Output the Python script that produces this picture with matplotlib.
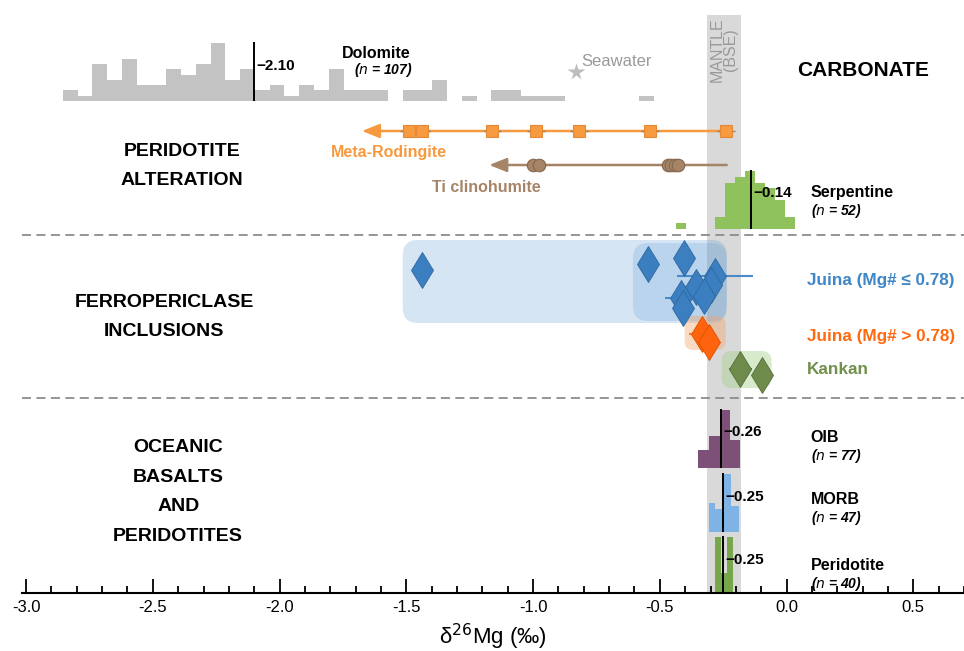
import numpy as np
import matplotlib.pyplot as plt
from matplotlib.patches import FancyBboxPatch

plt.rcParams['font.family'] = ['Liberation Sans', 'DejaVu Sans']

# ---- histogram data (bin edges in permil, counts) ----
dolo_start, dolo_width = -2.855, 0.0583
dolo_counts = [2, 1, 7, 4, 8, 3, 3, 6, 5, 7, 11, 4, 6, 2, 3, 1, 3, 2, 6, 2,
               2, 2, 0, 2, 2, 4, 0, 1, 0, 2, 2, 1, 1, 1, 0, 0, 0, 0, 0, 1]
dolo_median = -2.10

serp_start, serp_width = -0.438, 0.0394
serp_counts = [1, 0, 0, 0, 2, 8, 9, 10, 8, 7, 5, 2]
serp_median = -0.14

oib_edges = [-0.349, -0.304, -0.261, -0.222, -0.182]
oib_counts = [10, 18, 33, 16]
oib_median = -0.26

morb_edges = [-0.307, -0.281, -0.251, -0.219, -0.189]
morb_counts = [10, 8, 20, 9]
morb_median = -0.25

perid_edges = [-0.281, -0.257, -0.233, -0.210]
perid_counts = [17, 6, 17]
perid_median = -0.25

# ---- individual analyses ----
rodingite_x = [-1.491, -1.440, -1.160, -0.989, -0.819, -0.539, -0.239]
rodingite_span = (-0.217, -1.675)
clinohumite_x = [-1.002, -0.976, -0.467, -0.454, -0.441, -0.428]
clinohumite_span = (-0.236, -1.173)

juina_low_x = [-1.440, -0.545, -0.404, -0.281, -0.300, -0.358, -0.324, -0.415, -0.407]
juina_low_err = [0.03, 0.03, 0.0, 0.15, 0.0, 0.05, 0.0, 0.065, 0.0]
juina_high_x = [-0.334, -0.304]
juina_high_err = [0.05, 0.03]
kankan_x = [-0.182, -0.097]
kankan_err = [0.045, 0.0]

seawater = -0.83
mantle = (-0.315, -0.18)

# vertical placement of each row (rows counted downward from the top)
juina_low_rows = [270, 264, 258, 276, 285, 287, 296, 298, 308]
juina_high_rows = [334, 342]
kankan_rows = [369, 375]

fig = plt.figure(figsize=(9.64, 6.51), dpi=100)
ax = fig.add_axes([22 / 964, 58 / 651, 942 / 964, 593 / 651])
ax.set_xlim(-3.016, 0.693)
ax.set_ylim(593, 0)

for s in ['left', 'right', 'top']:
    ax.spines[s].set_visible(False)
ax.spines['bottom'].set_linewidth(1.5)
ax.set_yticks([])
ax.set_xticks(np.arange(-3.0, 0.51, 0.5))
ax.set_xticks(np.arange(-3.0, 0.71, 0.1), minor=True)
ax.xaxis.set_major_formatter(plt.FormatStrFormatter('%.1f'))
ax.tick_params(axis='x', which='major', direction='in', length=10, width=1.3,
               labelsize=12, pad=5)
ax.tick_params(axis='x', which='minor', direction='in', length=5, width=1.3)
ax.set_xlabel('δ$^{26}$Mg (‰)', fontsize=16, labelpad=5)

# mantle band
ax.fill_between(mantle, 15, 593, color='#d9d9d9', lw=0, zorder=0)
ax.text(np.mean(mantle), 17, 'MANTLE\n(BSE)', rotation=90, ha='center', va='top',
        color='#9a9a9a', fontsize=11.5, linespacing=0.9)

# group separators
for r in [235, 398]:
    ax.axhline(r, color='#8c8c8c', lw=1.3, ls=(0, (5, 3)), zorder=1)


def draw_hist(edges, counts, base, color, med, label_row, tall=58):
    edges = np.asarray(edges)
    counts = np.asarray(counts, dtype=float)
    h = counts * tall / counts.max()
    ax.bar(edges[:-1], -h, width=np.diff(edges), bottom=base, align='edge',
           color=color, lw=0, zorder=2)
    ax.vlines(med, base, base - tall - 1, color='black', lw=1.4, zorder=3)
    ax.text(med + 0.01, label_row, '\u2212%.2f' % abs(med), fontsize=11,
            fontweight='bold', ha='left', va='center', zorder=4)


dolo_edges = dolo_start + dolo_width * np.arange(len(dolo_counts) + 1)
serp_edges = serp_start + serp_width * np.arange(len(serp_counts) + 1)
draw_hist(dolo_edges, dolo_counts, 101, '#c3c3c3', dolo_median, 66)
draw_hist(serp_edges, serp_counts, 229, '#8fc15c', serp_median, 193)
draw_hist(oib_edges, oib_counts, 468, '#7d5078', oib_median, 432)
draw_hist(morb_edges, morb_counts, 532, '#7fb3e6', morb_median, 497)
draw_hist(perid_edges, perid_counts, 593, '#78a64a', perid_median, 560, tall=56)

label_kw = dict(fontsize=11.5, fontweight='bold', va='center')
n_kw = dict(fontsize=10, fontweight='bold', style='italic', va='center')

# carbonate row
ax.text(-1.618, 53, 'Dolomite', ha='center', **label_kw)
ax.text(-1.591, 70, '($n$ = 107)', ha='center', **n_kw)
ax.plot(seawater, 72, marker='*', ms=13, color='#bdbdbd', mec='none', zorder=3)
ax.text(seawater + 0.022, 61, 'Seawater', fontsize=12, color='#9a9a9a', va='center')
ax.text(0.30, 71, 'CARBONATE', fontsize=15, fontweight='bold', ha='center', va='center')

# peridotite alteration: arrows with individual analyses
arrow_style = '-|>,head_length=0.75,head_width=0.3'
ax.annotate('', xy=(rodingite_span[1], 131), xytext=(rodingite_span[0], 131),
            arrowprops=dict(arrowstyle=arrow_style, color='#f7993e', lw=1.8,
                            mutation_scale=14, shrinkA=0, shrinkB=0), zorder=2)
ax.errorbar(rodingite_x, [131] * len(rodingite_x), xerr=0.035, fmt='s', ms=9,
            mfc='#f89a3f', mec='#e3893a', mew=0.8, ecolor='#9b7f63', elinewidth=1,
            capsize=0, zorder=3)
ax.text(-1.567, 153, 'Meta-Rodingite', ha='center', color='#f7993e', **label_kw)

ax.annotate('', xy=(clinohumite_span[1], 165), xytext=(clinohumite_span[0], 165),
            arrowprops=dict(arrowstyle=arrow_style, color='#a68467', lw=1.8,
                            mutation_scale=14, shrinkA=0, shrinkB=0), zorder=2)
ax.plot(clinohumite_x, [165] * len(clinohumite_x), 'o', ms=9, mfc='#a68467',
        mec='#86684f', mew=0.8, zorder=3)
ax.text(-1.185, 187, 'Ti clinohumite', ha='center', color='#a68467', **label_kw)
ax.text(0.095, 193, 'Serpentine', **label_kw)
ax.text(0.095, 211, '($n$ = 52)', **n_kw)


# ferropericlase inclusions: shaded fields and diamonds
def field(x0, x1, r0, r1, color, alpha, rounding=0.06):
    box = FancyBboxPatch((x0, r0), x1 - x0, r1 - r0,
                         boxstyle='round,pad=0,rounding_size=%g' % rounding,
                         mutation_aspect=254, fc=color, ec='none', alpha=alpha,
                         zorder=1)
    ax.add_patch(box)


field(-1.514, -0.236, 240, 323, '#5b9bd5', 0.25)
field(-0.606, -0.236, 243, 321, '#5b9bd5', 0.22)
field(-0.402, -0.240, 316, 350, '#f4a46a', 0.40, rounding=0.035)
field(-0.256, -0.059, 351, 388, '#a9d18e', 0.45, rounding=0.04)

ax.errorbar(juina_low_x, juina_low_rows, xerr=juina_low_err, fmt='d', ms=18,
            mfc='#3c7fc0', mec='#2d679f', mew=0.6, ecolor='#4a8bcb',
            elinewidth=1.5, capsize=0, zorder=3)
ax.errorbar(juina_high_x, juina_high_rows, xerr=juina_high_err, fmt='d', ms=18,
            mfc='#ff630d', mec='#d95200', mew=0.6, ecolor='#ff7a2e',
            elinewidth=1.5, capsize=0, zorder=3)
ax.errorbar(kankan_x, kankan_rows, xerr=kankan_err, fmt='d', ms=18,
            mfc='#6e8b4c', mec='#566f3a', mew=0.6, ecolor='#5f7a40',
            elinewidth=1.5, capsize=0, zorder=3)

group_kw = dict(fontsize=12.3, fontweight='bold', va='center')
ax.text(0.079, 281, 'Juina (Mg# \u2264 0.78)', color='#3f86c6', **group_kw)
ax.text(0.079, 336, 'Juina (Mg# > 0.78)', color='#ff6a10', **group_kw)
ax.text(0.079, 370, 'Kankan', color='#71904d', **group_kw)

# basalts and peridotites
for name, n, r in [('OIB', 77, 438), ('MORB', 47, 500), ('Peridotite', 40, 566)]:
    ax.text(0.095, r, name, **label_kw)
    ax.text(0.095, r + 18, '($n$ = %d)' % n, **n_kw)

# group titles
title_kw = dict(fontsize=14, fontweight='bold', ha='center', va='center',
                linespacing=1.95)
ax.text(-2.385, 166, 'PERIDOTITE\nALTERATION', **title_kw)
ax.text(-2.456, 317, 'FERROPERICLASE\nINCLUSIONS', **title_kw)
ax.text(-2.40, 492, 'OCEANIC\nBASALTS\nAND\nPERIDOTITES', **title_kw)

fig.savefig('out.png', dpi=100)
